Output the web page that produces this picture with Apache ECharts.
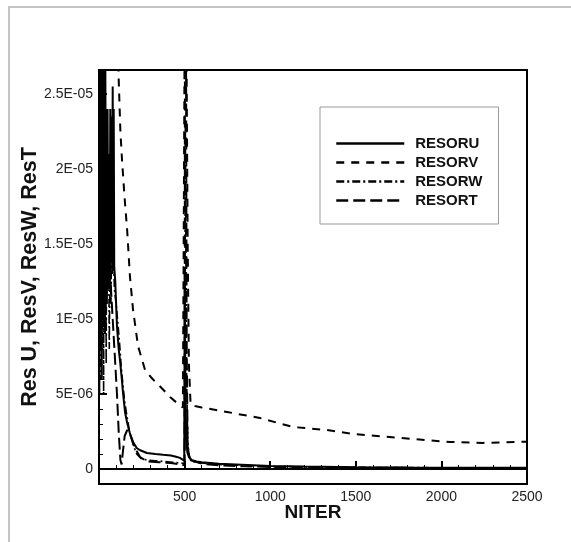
<!DOCTYPE html>
<html>
<head>
<meta charset="utf-8">
<script src="https://cdn.jsdelivr.net/npm/echarts@6/dist/echarts.min.js"></script>
<style>
html,body{margin:0;padding:0;background:#fff;}
#wrap{position:relative;width:571px;height:542px;}
#chart{position:absolute;left:0;top:0;width:571px;height:542px;}
#frame{position:absolute;left:8px;top:6px;right:0;bottom:0;border-top:2px solid #c4c4c4;border-left:2px solid #c4c4c4;pointer-events:none;}
</style>
</head>
<body>
<div id="wrap"><div id="chart"></div><div id="frame"></div></div>
<script>
// x tick labels and y tick labels
const xTickValues = [0, 500, 1000, 1500, 2000, 2500];
const xTickLabels = ['', '500', '1000', '1500', '2000', '2500'];
const yTickValues = [0, 5e-6, 10e-6, 15e-6, 20e-6, 25e-6];
const yTickLabels = ['0', '5E-06', '1E-05', '1.5E-05', '2E-05', '2.5E-05'];
const seriesNames = ['RESORU', 'RESORV', 'RESORW', 'RESORT'];

// [NITER, residual]
const resoru = [
  [0,40e-6],[2,5e-6],[4,35e-6],[6,8e-6],[8,30e-6],[10,12e-6],[13,28e-6],[16,6e-6],[19,26e-6],[22,10e-6],
  [25,29e-6],[28,14e-6],[31,24e-6],[34,9e-6],[37,27e-6],[40,15e-6],[43,22e-6],[46,11e-6],[50,24e-6],[54,13e-6],
  [58,21e-6],[62,12e-6],[66,24e-6],[70,14e-6],[74,23.5e-6],[77,13e-6],[80,25.5e-6],[83,14e-6],[86,24e-6],[89,13.5e-6],
  [95,12.5e-6],[105,9.5e-6],[115,8e-6],[123,7.2e-6],[134,5.9e-6],[140,5.1e-6],[152,3.8e-6],[164,3.1e-6],[180,2.4e-6],
  [199,1.8e-6],[220,1.4e-6],[240,1.25e-6],[280,1.07e-6],[330,1.0e-6],[374,0.95e-6],[420,0.9e-6],[450,0.82e-6],[473,0.74e-6],
  [498,0.55e-6],[501,13.4e-6],[503,8e-6],[506,4e-6],[510,2e-6],[516,1.1e-6],[525,0.8e-6],[540,0.6e-6],[570,0.5e-6],
  [600,0.45e-6],[650,0.4e-6],[700,0.35e-6],[800,0.3e-6],[900,0.25e-6],[1000,0.2e-6],[1200,0.16e-6],[1500,0.12e-6],
  [1800,0.1e-6],[2100,0.09e-6],[2500,0.08e-6]
];
const resorv = [
  [0,60e-6],[50,50e-6],[100,38e-6],[108,30e-6],[115,26e-6],[125,22.5e-6],[135,20.5e-6],[150,18e-6],[164,16e-6],
  [181,12.8e-6],[199,10.6e-6],[228,8.2e-6],[269,6.6e-6],[305,6.1e-6],[339,5.7e-6],[374,5.3e-6],[415,4.8e-6],[456,4.4e-6],
  [490,4.1e-6],[500,4.0e-6],[505,40e-6],[512,26e-6],[518,15e-6],[525,7e-6],[535,4.3e-6],[560,4.2e-6],[600,4.1e-6],
  [748,3.8e-6],[940,3.4e-6],[1133,2.8e-6],[1332,2.6e-6],[1484,2.34e-6],[1758,2.07e-6],[2050,1.8e-6],[2243,1.74e-6],
  [2442,1.8e-6],[2500,1.82e-6]
];
const resorw = [
  [0,30e-6],[3,10e-6],[6,28e-6],[9,6e-6],[12,25e-6],[15,12e-6],[18,30e-6],[21,8e-6],[24,22e-6],[27,5e-6],
  [30,26e-6],[34,9e-6],[38,20e-6],[42,7e-6],[46,24e-6],[50,12e-6],[55,18e-6],[60,8e-6],[65,15e-6],[70,11e-6],
  [75,17e-6],[80,13e-6],[85,14e-6],[90,12e-6],[100,11e-6],[110,9.8e-6],[120,8.4e-6],[130,6.8e-6],[140,5.6e-6],
  [150,4.5e-6],[165,3.4e-6],[180,2.4e-6],[200,1.6e-6],[220,1.0e-6],[245,0.7e-6],[280,0.6e-6],[330,0.55e-6],
  [380,0.5e-6],[430,0.45e-6],[480,0.4e-6],[500,0.35e-6],[504,23e-6],[508,15e-6],[512,6e-6],[518,2e-6],[525,1e-6],
  [540,0.5e-6],[600,0.4e-6],[700,0.3e-6],[800,0.25e-6],[1000,0.18e-6],[1300,0.12e-6],[1700,0.1e-6],[2100,0.08e-6],[2500,0.07e-6]
];
const resort = [
  [0,20e-6],[4,35e-6],[8,15e-6],[12,30e-6],[16,10e-6],[20,28e-6],[25,13e-6],[30,25e-6],[35,9e-6],[40,22e-6],
  [45,14e-6],[50,19e-6],[55,12e-6],[60,14e-6],[70,12e-6],[80,10e-6],[95,7e-6],[105,5e-6],[115,2.5e-6],[125,0.6e-6],
  [132,0.3e-6],[140,1.2e-6],[150,2.2e-6],[165,2.6e-6],[185,2.2e-6],[210,1.4e-6],[240,0.8e-6],[280,0.5e-6],
  [350,0.45e-6],[420,0.4e-6],[480,0.3e-6],[500,0.25e-6],[503,40e-6],[508,30e-6],[512,8e-6],[518,1.5e-6],[530,0.6e-6],
  [600,0.35e-6],[700,0.25e-6],[850,0.18e-6],[1000,0.14e-6],[1300,0.1e-6],[1700,0.08e-6],[2100,0.06e-6],[2500,0.05e-6]
];

const yMinorTicks = [];
for (let i = -1; i <= 26; i++) yMinorTicks.push(i * 1e-6);

const font = 'Liberation Sans, Arial, sans-serif';
const chart = echarts.init(document.getElementById('chart'));
const yMin = -1e-6, yMax = 26.6e-6;
const lineDefs = [
  {data: resoru, type: 'solid', w: 2},
  {data: resorv, type: [8, 7], w: 2},
  {data: resorw, type: [8, 3, 2, 3], w: 1.6},
  {data: resort, type: [12, 5], w: 2}
];
chart.setOption({
  animation: false,
  backgroundColor: '#fff',
  grid: {left: 99, right: 44, top: 70, bottom: 58, show: true, borderColor: '#000', borderWidth: 2, backgroundColor: 'transparent'},
  legend: {
    orient: 'vertical', left: 320, top: 107, width: 179,
    padding: [29, 16, 16, 15], itemGap: 4, itemWidth: 68, itemHeight: 14,
    backgroundColor: '#fff', borderColor: '#999', borderWidth: 1,
    itemStyle: {color: 'transparent', borderColor: 'transparent', borderWidth: 0, opacity: 0},
    lineStyle: {width: 2.5},
    textStyle: {fontFamily: font, fontWeight: 'bold', fontSize: 15, color: '#111', padding: [0, 0, 0, 6]},
    data: seriesNames
  },
  xAxis: [{
    type: 'value', min: 0, max: 2500, interval: 500,
    name: 'NITER', nameLocation: 'middle', nameGap: 19, nameMoveOverlap: false,
    nameTextStyle: {fontFamily: font, fontWeight: 'bold', fontSize: 19, color: '#111', verticalAlign: 'top'},
    axisLine: {lineStyle: {color: '#000', width: 2}},
    axisTick: {inside: true, length: 8, lineStyle: {color: '#000', width: 2}},
    minorTick: {show: true, splitNumber: 5, length: 4, lineStyle: {color: '#000', width: 1}},
    splitLine: {show: false},
    axisLabel: {fontFamily: font, fontSize: 14, color: '#222', margin: 6,
      formatter: v => { const i = xTickValues.indexOf(v); return i >= 0 ? xTickLabels[i] : ''; }}
  }],
  yAxis: [{
    type: 'value', min: yMin, max: yMax,
    name: 'Res U, ResV, ResW, ResT', nameLocation: 'middle', nameGap: 58, nameMoveOverlap: false,
    nameTextStyle: {fontFamily: font, fontWeight: 'bold', fontSize: 21.5, color: '#111', verticalAlign: 'bottom'},
    axisLine: {lineStyle: {color: '#000', width: 2}},
    axisTick: {inside: true, length: 8, customValues: yTickValues, lineStyle: {color: '#000', width: 2}},
    splitLine: {show: false},
    axisLabel: {fontFamily: font, fontSize: 14, color: '#222', margin: 6, customValues: yTickValues,
      formatter: v => { let i = yTickValues.findIndex(t => Math.abs(t - v) < 1e-9); return i >= 0 ? yTickLabels[i] : ''; }}
  }, {
    type: 'value', min: yMin, max: yMax, position: 'left',
    axisLine: {show: false},
    axisTick: {show: true, inside: true, length: 4, customValues: yMinorTicks, lineStyle: {color: '#000', width: 1}},
    axisLabel: {show: false}, splitLine: {show: false}
  }],
  series: lineDefs.map((d, i) => ({
    name: seriesNames[i], type: 'line', data: d.data, yAxisIndex: 0,
    symbol: 'none', showSymbol: false, clip: true,
    lineStyle: {color: '#000', width: d.w, type: d.type},
    itemStyle: {color: '#000'}
  }))
});
</script>
</body>
</html>
